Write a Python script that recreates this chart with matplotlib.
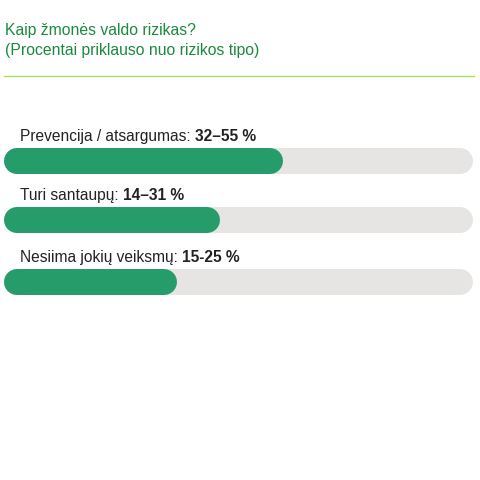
import matplotlib
matplotlib.use("Agg")
import matplotlib.pyplot as plt

plt.rcParams['font.family'] = ['Liberation Sans', 'DejaVu Sans']

title_lines = ["Kaip žmonės valdo rizikas?", "(Procentai priklauso nuo rizikos tipo)"]
categories = ["Prevencija / atsargumas:", "Turi santaupų:", "Nesiima jokių veiksmų:"]
ranges = ["32–55 %", "14–31 %", "15-25 %"]
fill_values = [57.1, 42.9, 33.2]  # filled share of each track

green = "#259c6a"
track = "#e6e5e3"
title_green = "#1b8a3c"
rule_green = "#a8e063"
text_dark = "#222222"

W = 480
fig = plt.figure(figsize=(4.8, 4.8), dpi=100)
fig.patch.set_facecolor("white")

# axes over the whole figure: x in percent (0..100 -> line centers 17..460 px), y in pixels
ax = fig.add_axes([0, 0, 1, 1])
x0, span = 17, 443
ax.set_xlim(-x0 / span * 100, (W - x0) / span * 100)
ax.set_ylim(W, 0)
ax.axis("off")

bar_h_pt = 26 * 72 / 100  # 26 px thick bars
centers = [161, 220, 282]

for i, (cat, rng, val) in enumerate(zip(categories, ranges, fill_values)):
    y = centers[i]
    ax.plot([0, 100], [y, y], color=track, lw=bar_h_pt, solid_capstyle="round")
    ax.plot([0, val], [y, y], color=green, lw=bar_h_pt, solid_capstyle="round")
    t = fig.text(20 / W, 1 - (y - 20) / W, cat + " ", fontsize=11.2,
                 color=text_dark, va="baseline", ha="left")
    ax.annotate(rng, xy=(1, 0), xycoords=t, fontsize=11.2, fontweight="bold",
                color=text_dark, va="bottom", ha="left")

fig.text(5 / W, 1 - 35 / W, title_lines[0], fontsize=11.3, color=title_green,
         va="baseline", ha="left")
fig.text(5 / W, 1 - 55 / W, title_lines[1], fontsize=11.3, color=title_green,
         va="baseline", ha="left")

ax.plot([-x0 / span * 100 + 4 / span * 100, (474 - x0) / span * 100], [76, 76],
        color=rule_green, lw=1.0)

fig.savefig("out.png", dpi=100, facecolor="white")
